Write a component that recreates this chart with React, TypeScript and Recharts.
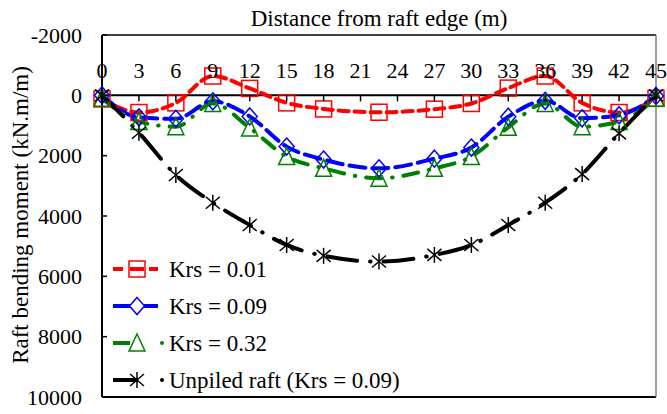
import React from 'react';
import { LineChart, Line, XAxis, YAxis, ReferenceLine, Legend, Label } from 'recharts';

// distance from raft edge (m)
const distance = [0, 3, 6, 9, 12, 15, 18, 22.5, 27, 30, 33, 36, 39, 42, 45];
// raft bending moment (kN.m/m)
const krs001 = [120, 570, 250, -640, -230, 250, 450, 560, 460, 270, -240, -640, 250, 570, 100];
const krs009 = [0, 730, 780, 200, 700, 1700, 2130, 2420, 2100, 1730, 710, 180, 760, 660, 20];
const krs032 = [100, 870, 1040, 270, 1080, 2030, 2420, 2750, 2420, 2030, 1060, 270, 1040, 870, 100];
const unpiled = [0, 1240, 2640, 3560, 4300, 4960, 5320, 5510, 5290, 4960, 4300, 3560, 2610, 1260, 0];

const xTicks = [0, 3, 6, 9, 12, 15, 18, 21, 24, 27, 30, 33, 36, 39, 42, 45];
const yTicks = [-2000, 0, 2000, 4000, 6000, 8000, 10000];

const FONT = '"Liberation Serif", "Times New Roman", serif';
const W = 667;
const H = 414;
const PLOT_TOP = 35;
const PLOT_BOTTOM = 397;
const ZERO_Y = PLOT_TOP + (PLOT_BOTTOM - PLOT_TOP) * (2000 / 12000);

const chartData = distance.map((x, i) => ({
  x,
  krs001: krs001[i],
  krs009: krs009[i],
  krs032: krs032[i],
  unpiled: unpiled[i],
}));

type Shape = 'square' | 'diamond' | 'triangle' | 'star';

const marker = (shape: Shape, cx: number, cy: number, color: string, key?: string) => {
  const sw = 1.5;
  if (shape === 'square') {
    return <rect key={key} x={cx - 8} y={cy - 8} width={16} height={16} fill="none" stroke={color} strokeWidth={sw} />;
  }
  if (shape === 'diamond') {
    return (
      <polygon key={key} points={`${cx},${cy - 8.5} ${cx + 7.5},${cy} ${cx},${cy + 8.5} ${cx - 7.5},${cy}`}
        fill="none" stroke={color} strokeWidth={sw} />
    );
  }
  if (shape === 'triangle') {
    return (
      <polygon key={key} points={`${cx},${cy - 9} ${cx + 8},${cy + 8} ${cx - 8},${cy + 8}`}
        fill="none" stroke={color} strokeWidth={sw} />
    );
  }
  return (
    <g key={key} stroke={color} strokeWidth={sw}>
      <line x1={cx} y1={cy - 8} x2={cx} y2={cy + 8} />
      <line x1={cx - 7} y1={cy - 6} x2={cx + 7} y2={cy + 6} />
      <line x1={cx - 7} y1={cy + 6} x2={cx + 7} y2={cy - 6} />
    </g>
  );
};

const series = [
  { key: 'krs001', name: 'Krs = 0.01', color: '#ff0000', dash: '10 6', shape: 'square' as Shape },
  { key: 'krs009', name: 'Krs = 0.09', color: '#0000ff', dash: '16 7', shape: 'diamond' as Shape },
  { key: 'krs032', name: 'Krs = 0.32', color: '#008000', dash: '15 11 0.5 11', shape: 'triangle' as Shape },
  { key: 'unpiled', name: 'Unpiled raft (Krs = 0.09)', color: '#000000', dash: '30 13 0.5 13', shape: 'star' as Shape },
];

const XTick = (props: any) => {
  const { x, payload } = props;
  return (
    <g>
      <text x={x} y={78} textAnchor="middle" fontFamily={FONT} fontSize={22} fill="#000">
        {payload.value}
      </text>
      <line x1={x} x2={x} y1={ZERO_Y} y2={ZERO_Y + 6} stroke="#000" strokeWidth={1.5} />
    </g>
  );
};

const YTick = (props: any) => {
  const { x, y, payload } = props;
  return (
    <g>
      <text x={x} y={y} dy="0.355em" textAnchor="end" fontFamily={FONT} fontSize={22} fill="#000">
        {payload.value}
      </text>
      <line x1={x + 20} x2={x + 25} y1={y} y2={y} stroke="#000" strokeWidth={1.5} />
    </g>
  );
};

const renderLegend = () => (
  <svg width={320} height={150} style={{ display: 'block' }}>
    {series.map((s, i) => {
      const cy = 19 + i * 37;
      let segs: React.ReactNode;
      if (s.shape === 'square') {
        segs = (
          <g stroke={s.color} strokeWidth={4}>
            <line x1={5} x2={15} y1={cy} y2={cy} />
            <line x1={22} x2={36} y1={cy} y2={cy} />
            <line x1={41} x2={50} y1={cy} y2={cy} />
          </g>
        );
      } else if (s.shape === 'diamond') {
        segs = (
          <g stroke={s.color} strokeWidth={4}>
            <line x1={5} x2={22} y1={cy} y2={cy} />
            <line x1={36} x2={50} y1={cy} y2={cy} />
          </g>
        );
      } else {
        segs = (
          <g stroke={s.color} strokeWidth={4}>
            <line x1={5} x2={s.shape === 'star' ? 30 : 22} y1={cy} y2={cy} />
            <circle cx={54} cy={cy} r={2} fill={s.color} stroke="none" />
          </g>
        );
      }
      return (
        <g key={s.key}>
          {segs}
          {marker(s.shape, 29, cy, s.color)}
          <text x={61} y={cy} dy="0.355em" fontFamily={FONT} fontSize={23} fill="#000">
            {s.name}
          </text>
        </g>
      );
    })}
  </svg>
);

export default function App() {
  return (
    <div style={{ position: 'absolute', left: 0, top: 0, width: W, height: H, background: '#fff' }}>
      <LineChart width={W} height={H} data={chartData} margin={{ top: 0, right: 11, bottom: H - PLOT_BOTTOM, left: 0 }}>
        <XAxis
          dataKey="x"
          type="number"
          orientation="top"
          domain={[0, 45]}
          ticks={xTicks}
          height={PLOT_TOP}
          axisLine={false}
          tickLine={false}
          tickSize={0}
          tickMargin={0}
          tick={<XTick />}
          interval={0}
        >
          <Label
            content={() => (
              <text x={379} y={26} textAnchor="middle" fontFamily={FONT} fontSize={23} fill="#000">
                Distance from raft edge (m)
              </text>
            )}
          />
        </XAxis>
        <YAxis
          type="number"
          domain={[-2000, 10000]}
          reversed
          ticks={yTicks}
          width={102}
          axisLine={{ stroke: '#000', strokeWidth: 2 }}
          tickLine={false}
          tickSize={0}
          tickMargin={20}
          tick={<YTick />}
          interval={0}
        >
          <Label
            content={() => (
              <text x={28} y={215} transform="rotate(-90 28 215)" textAnchor="middle" fontFamily={FONT} fontSize={23} fill="#000">
                Raft bending moment (kN.m/m)
              </text>
            )}
          />
        </YAxis>
        <ReferenceLine y={-2000} stroke="#000" strokeWidth={1.5} />
        <ReferenceLine y={10000} stroke="#000" strokeWidth={2} />
        <ReferenceLine x={45} stroke="#808080" strokeWidth={1.5} />
        <ReferenceLine y={0} stroke="#000" strokeWidth={2} />
        {series.map((s) => (
          <Line
            key={s.key}
            type="monotone"
            dataKey={s.key}
            name={s.name}
            stroke={s.color}
            strokeWidth={4}
            strokeDasharray={s.dash}
            strokeLinecap="round"
            dot={(p: any) => marker(s.shape, p.cx, p.cy, s.color, `${s.key}-${p.index}`)}
            activeDot={false}
            isAnimationActive={false}
          />
        ))}
        <Legend
          layout="vertical"
          align="center"
          verticalAlign="middle"
          content={renderLegend}
          wrapperStyle={{ left: 108, top: 250, width: 320, height: 150 }}
        />
      </LineChart>
    </div>
  );
}
